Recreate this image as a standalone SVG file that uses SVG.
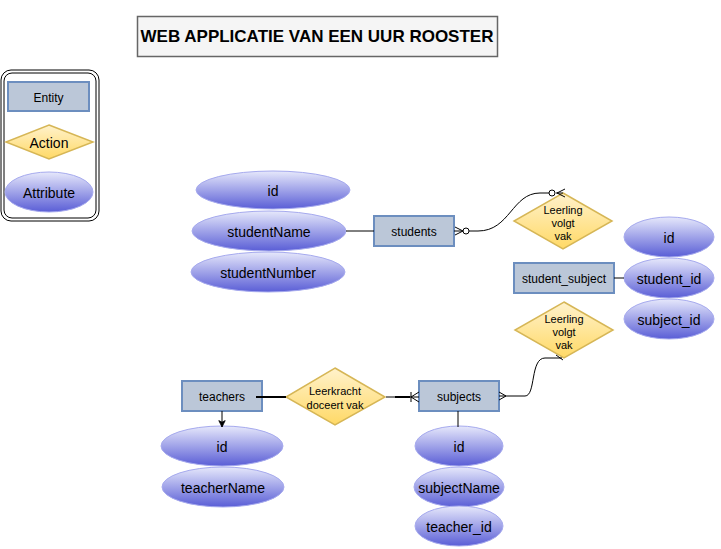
<svg xmlns="http://www.w3.org/2000/svg" width="721" height="549" viewBox="0 0 721 549">
<defs>
<linearGradient id="gAttr" x1="0" y1="0" x2="0" y2="1">
<stop offset="0" stop-color="#e6e8fb"/>
<stop offset="1" stop-color="#5a5ed6"/>
</linearGradient>
<linearGradient id="gAct" x1="0" y1="0" x2="0" y2="1">
<stop offset="0" stop-color="#fff2cc"/>
<stop offset="1" stop-color="#ffd966"/>
</linearGradient>
<marker id="arr" viewBox="0 0 10 10" refX="9" refY="5" markerWidth="8" markerHeight="8" markerUnits="userSpaceOnUse" orient="auto">
<path d="M1,1 L9,5 L1,9 L3,5 Z" fill="#000" stroke="#000" stroke-width="1"/>
</marker>
</defs>
<style>
text{font-family:"Liberation Sans",Arial,sans-serif;fill:#000;text-anchor:middle;dominant-baseline:central}
.ent{fill:#bbc7d8;stroke:#6c8ebf;stroke-width:2}
.act{fill:url(#gAct);stroke:#d6b656;stroke-width:1.5}
.att{fill:url(#gAttr);stroke:#a6aaee;stroke-width:1}
.t12{font-size:12px}
.t14{font-size:14px}
.t11{font-size:11px}
.ln{fill:none;stroke:#000;stroke-width:1}
</style>

<g id="title">
<rect x="137.5" y="16.5" width="360" height="40" fill="#f5f5f5" stroke="#666666" stroke-width="1.5"/>
<text x="317" y="36.5" style="font-size:17px;font-weight:bold">WEB APPLICATIE VAN EEN UUR ROOSTER</text>
</g>

<g id="legend">
<rect x="1" y="70" width="98" height="151" rx="10" fill="#fff" stroke="#000" stroke-width="1"/>
<rect x="4" y="73" width="92" height="145" rx="8" fill="none" stroke="#000" stroke-width="1"/>
<rect class="ent" x="8" y="82" width="81" height="29"/>
<text class="t12" x="48.5" y="97.5">Entity</text>
<polygon class="act" points="49,125 93,142 49,159 6,142"/>
<text class="t14" x="49" y="142.5">Action</text>
<ellipse class="att" cx="49" cy="192" rx="44" ry="20"/>
<text class="t14" x="49" y="192.5">Attribute</text>
</g>

<g id="students">
<rect class="ent" x="374" y="216" width="80" height="30"/>
<text class="t12" x="414" y="232">students</text>
</g>
<g id="students_id">
<ellipse class="att" cx="273" cy="190" rx="77" ry="19"/>
<text class="t14" x="273" y="190.5">id</text>
</g>
<g id="studentName">
<ellipse class="att" cx="269" cy="231" rx="77" ry="20"/>
<text class="t14" x="269" y="231.5">studentName</text>
</g>
<g id="studentNumber">
<ellipse class="att" cx="268" cy="272" rx="77" ry="20"/>
<text class="t14" x="268" y="272.5">studentNumber</text>
</g>

<g id="action_leerling1">
<polygon class="act" points="563,193 612,221 563,249 514,221"/>
<text class="t11" x="563" y="209.5">Leerling</text>
<text class="t11" x="563" y="222.5">volgt</text>
<text class="t11" x="563" y="235.5">vak</text>
</g>

<g id="student_subject">
<rect class="ent" x="514" y="263" width="100" height="30"/>
<text class="t12" x="564" y="278.5">student_subject</text>
</g>
<g id="ss_id">
<ellipse class="att" cx="669" cy="237" rx="45" ry="20"/>
<text class="t14" x="669" y="237.5">id</text>
</g>
<g id="ss_student_id">
<ellipse class="att" cx="669" cy="278" rx="45" ry="20"/>
<text class="t14" x="669" y="278.5">student_id</text>
</g>
<g id="ss_subject_id">
<ellipse class="att" cx="669" cy="319" rx="45" ry="20"/>
<text class="t14" x="669" y="319.5">subject_id</text>
</g>

<g id="action_leerling2">
<polygon class="act" points="564,302 613,330 564,358 515,330"/>
<text class="t11" x="564" y="318.5">Leerling</text>
<text class="t11" x="564" y="331.5">volgt</text>
<text class="t11" x="564" y="344.5">vak</text>
</g>

<g id="teachers">
<rect class="ent" x="182" y="381" width="80" height="30"/>
<text class="t12" x="222" y="396.5">teachers</text>
</g>
<g id="teachers_id">
<ellipse class="att" cx="222" cy="446" rx="61" ry="20"/>
<text class="t14" x="222" y="446.5">id</text>
</g>
<g id="teacherName">
<ellipse class="att" cx="223" cy="487" rx="61" ry="20"/>
<text class="t14" x="223" y="487.5">teacherName</text>
</g>

<g id="action_leerkracht">
<polygon class="act" points="335,368 385,397 335,425 286,397"/>
<text class="t11" x="335" y="390.5">Leerkracht</text>
<text class="t11" x="335" y="404.5">doceert vak</text>
</g>

<g id="subjects">
<rect class="ent" x="419" y="381" width="80" height="30"/>
<text class="t12" x="459" y="396.5">subjects</text>
</g>
<g id="subjects_id">
<ellipse class="att" cx="459" cy="446" rx="44" ry="20"/>
<text class="t14" x="459" y="446.5">id</text>
</g>
<g id="subjectName">
<ellipse class="att" cx="459" cy="487" rx="45" ry="20"/>
<text class="t14" x="459" y="487.5">subjectName</text>
</g>
<g id="teacher_id">
<ellipse class="att" cx="459" cy="526" rx="44" ry="20"/>
<text class="t14" x="459" y="526.5">teacher_id</text>
</g>

<g id="connectors">
<path class="ln" d="M346,231 H374"/>
<path class="ln" d="M469,231 H478 C510,231 512,193 540,193 H549"/>
<path class="ln" d="M454,231 H463 M455,227 L463,231 L455,235"/>
<circle cx="466" cy="231" r="3" fill="#fff" stroke="#000" stroke-width="1"/>
<path class="ln" d="M556,193 H563 M565,189 L557,193 L565,197"/>
<circle cx="552" cy="193" r="3" fill="#fff" stroke="#000" stroke-width="1"/>
<path class="ln" d="M614,278 H624"/>
<path class="ln" d="M256,397 H286" style="stroke-width:2"/>
<path class="ln" d="M222,411 V427" marker-end="url(#arr)"/>
<path class="ln" d="M386,397 H419"/>
<path class="ln" d="M395,397 H410" style="stroke-width:2"/>
<path class="ln" d="M411,392 V402 M419,392 L411,397 L419,402"/>
<path class="ln" d="M499,396 H525 C536,396 530,358 545,358 H562"/>
<path class="ln" d="M499,392 L506,396 L499,400"/>
<path class="ln" d="M556,355 L563,360"/>
<path class="ln" d="M458,411 V427"/>
</g>
</svg>
